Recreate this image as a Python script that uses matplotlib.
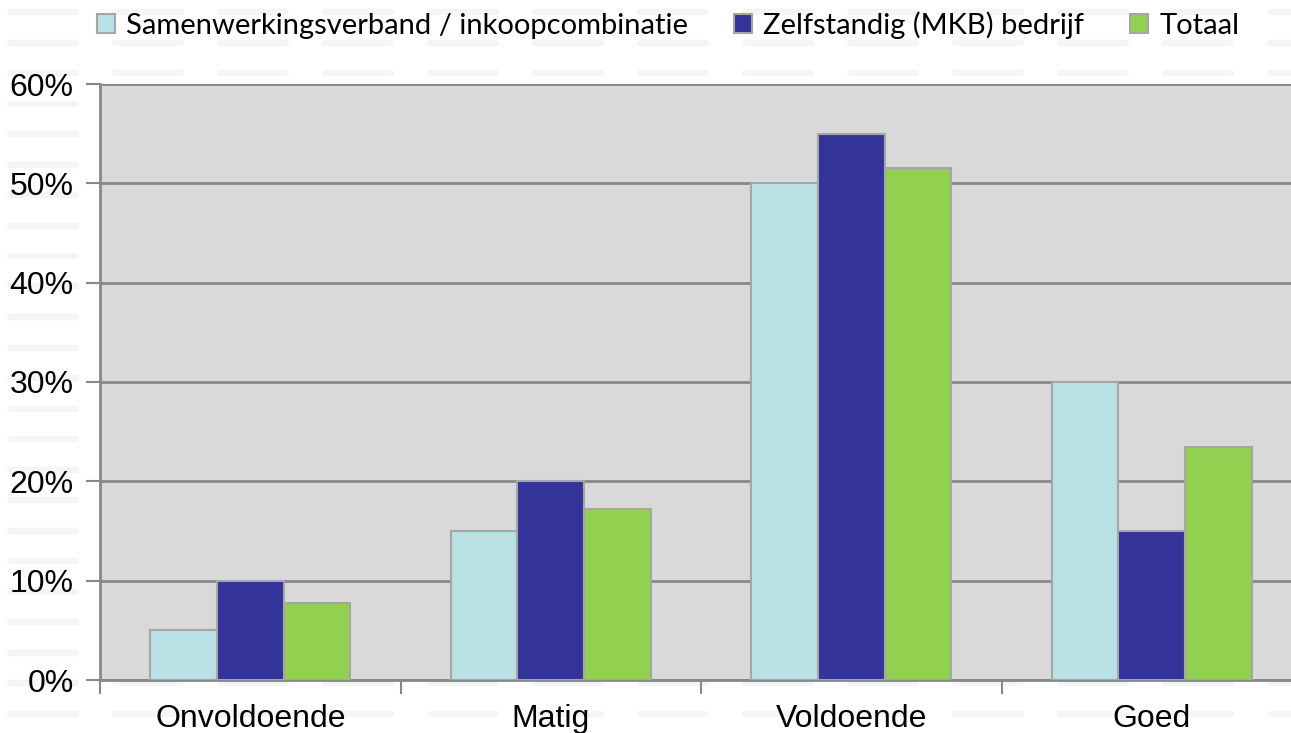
import numpy as np
import matplotlib.pyplot as plt
from matplotlib.patches import Patch
from matplotlib.lines import Line2D

categories = ["Onvoldoende", "Matig", "Voldoende", "Goed"]
series_names = ["Samenwerkingsverband / inkoopcombinatie", "Zelfstandig (MKB) bedrijf", "Totaal"]
samenwerking = [5, 15, 50, 30]
zelfstandig = [10, 20, 55, 15]
totaal = [7.8, 17.2, 51.5, 23.5]
y_ticks = [0, 10, 20, 30, 40, 50, 60]

colors = ["#b9e0e3", "#333399", "#92d050"]
edge = "#a6a6a6"

plt.rcParams["font.family"] = ["Liberation Sans", "DejaVu Sans"]

fig = plt.figure(figsize=(12.91, 7.33), dpi=100)

# faint dashed background texture
for yy in np.arange(733 - 12, 0, -30.5):
    for xx in np.arange(10, 1291, 105):
        fig.add_artist(Line2D([xx / 1291, (xx + 66) / 1291], [yy / 733, yy / 733],
                              color="#f5f5f5", lw=4.5, solid_capstyle="round", zorder=-10))

ax = fig.add_axes([100 / 1291, 1 - 680 / 733, 1 - 100 / 1291, (680 - 84) / 733])
ax.set_facecolor("#d9d9d9")

x = np.arange(len(categories))
width = 0.222
for i, (vals, c) in enumerate(zip([samenwerking, zelfstandig, totaal], colors)):
    ax.bar(x + (i - 1) * width, vals, width, color=c, edgecolor=edge, linewidth=1.5,
           label=series_names[i], zorder=3)

ax.set_xlim(-0.5, 3.463)
ax.set_ylim(0, 60)
ax.set_yticks(y_ticks)
ax.set_yticklabels([f"{v}%" for v in y_ticks], fontsize=23)
ax.yaxis.grid(True, color="#888888", linewidth=2, zorder=1)
ax.set_axisbelow(True)

ax.set_xticks(x)
ax.set_xticklabels(categories, fontsize=23)
ax.set_xticks(np.arange(-0.5, 3.5, 1.0), minor=True)
ax.tick_params(axis="x", which="major", length=0, pad=17)
ax.tick_params(axis="x", which="minor", length=10, width=1.5, color="#888888")
ax.tick_params(axis="y", length=10, width=1.5, color="#888888", pad=9)

for s in ["top", "right"]:
    ax.spines[s].set_visible(False)
for s in ["left", "bottom"]:
    ax.spines[s].set_color("#888888")
    ax.spines[s].set_linewidth(2)

handles = [Patch(facecolor=c, edgecolor=edge, linewidth=1.5) for c in colors]
fig.legend(handles, series_names, loc="center", bbox_to_anchor=(668 / 1291, 1 - 25 / 733),
           ncol=3, frameon=False, prop={"family": "Lato", "size": 21},
           handlelength=0.62, handleheight=0.62, handletextpad=0.4, columnspacing=1.55)

fig.savefig("out.png", dpi=100)
